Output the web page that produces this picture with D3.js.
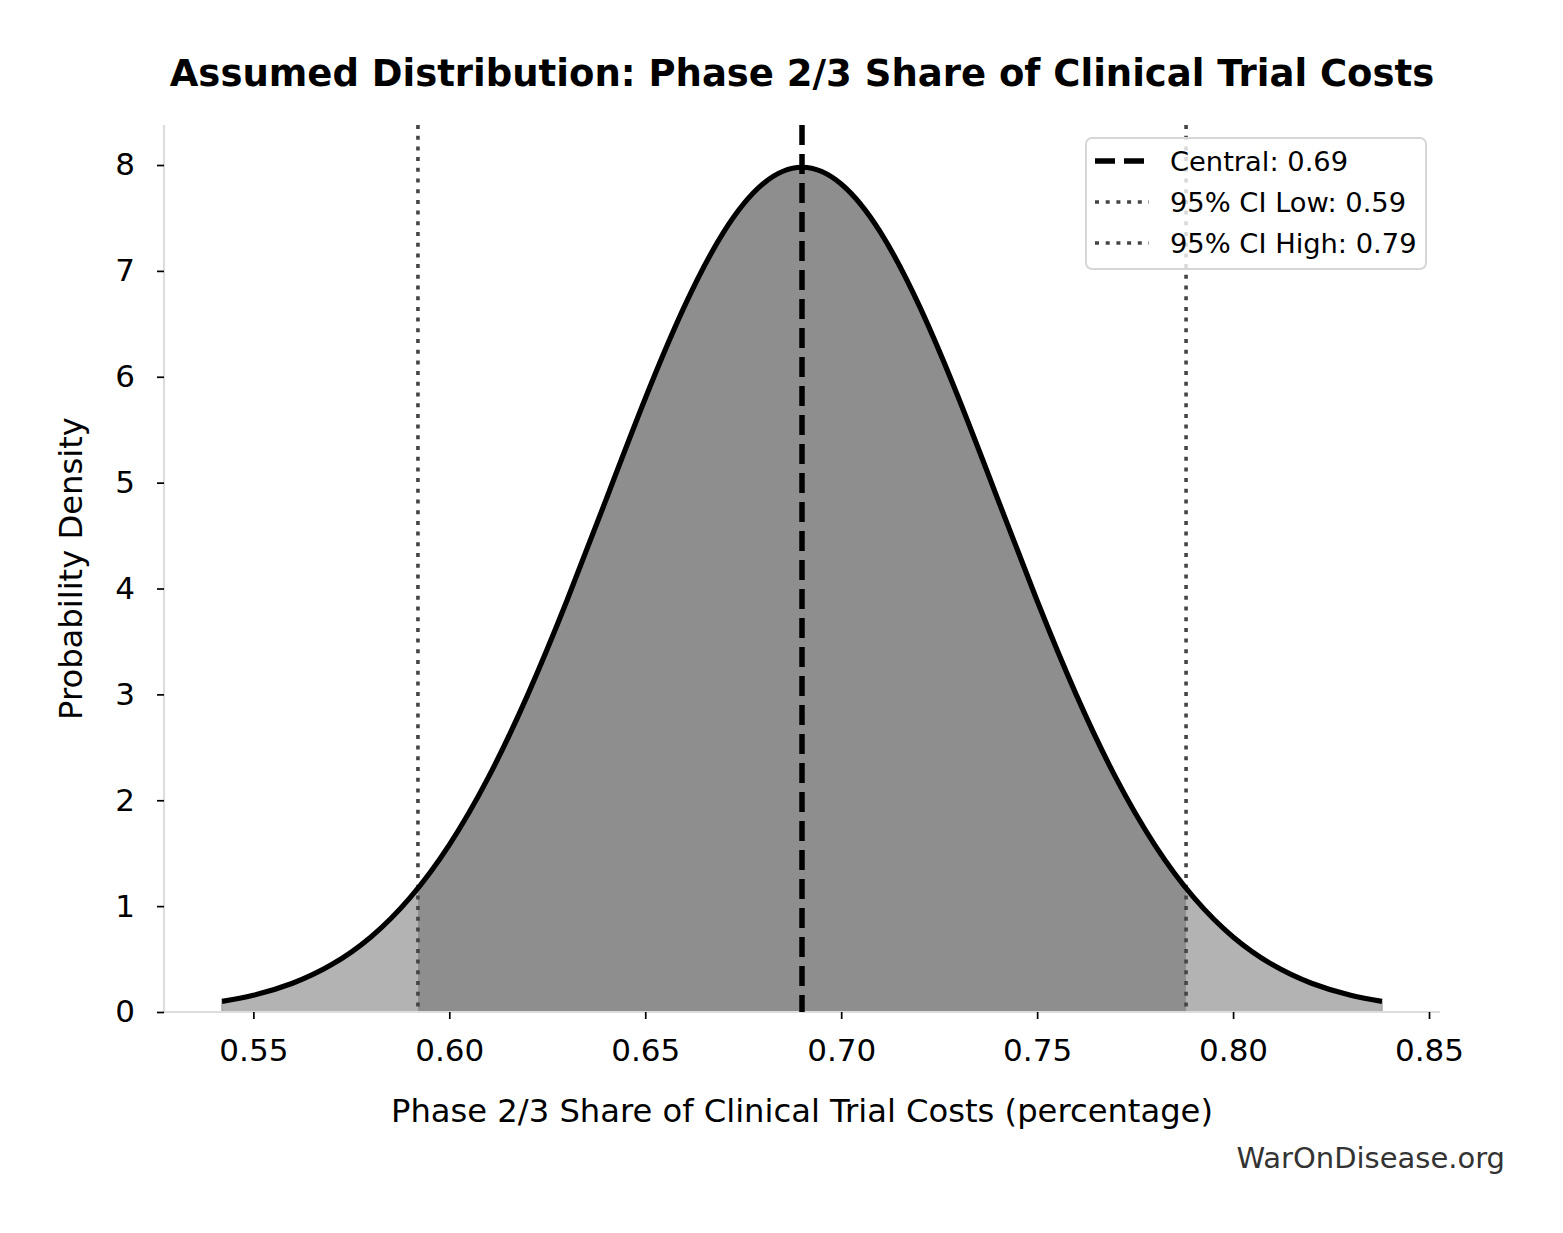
<!DOCTYPE html>
<html><head><meta charset="utf-8">
<script src="https://cdn.jsdelivr.net/npm/d3@7"></script>
<style>body{margin:0;background:#fff}svg{display:block}text{font-family:"DejaVu Sans",sans-serif}</style>
</head><body>
<svg id="c" width="1563" height="1233"></svg>
<script>
// density curve
const xs = [0.542,0.55,0.56,0.57,0.58,0.59,0.60,0.61,0.62,0.63,0.64,0.65,0.66,0.67,0.68,0.69,0.70,0.71,0.72,0.73,0.74,0.75,0.76,0.77,0.78,0.79,0.80,0.81,0.82,0.83,0.838];
const density = [0.100,0.158,0.272,0.448,0.709,1.080,1.579,2.218,2.995,3.884,4.839,5.794,6.664,7.366,7.821,7.979,7.821,7.366,6.664,5.794,4.839,3.884,2.995,2.218,1.579,1.080,0.709,0.448,0.272,0.158,0.100];
const central = 0.69, ciLow = 0.592, ciHigh = 0.788;
const legendLabels = ["Central: 0.69","95% CI Low: 0.59","95% CI High: 0.79"];
const xTicks = [0.55,0.60,0.65,0.70,0.75,0.80,0.85];
const yTicks = [0,1,2,3,4,5,6,7,8];
const title = "Assumed Distribution: Phase 2/3 Share of Clinical Trial Costs";
const xLabel = "Phase 2/3 Share of Clinical Trial Costs (percentage)";
const yLabel = "Probability Density";

const svg = d3.select("#c");
const L=164, R=1440, T=125, B=1012;
const pad = (xs[xs.length-1]-xs[0])*0.05;
const x = d3.scaleLinear().domain([xs[0]-pad, xs[xs.length-1]+pad]).range([L,R]);
const ymax = d3.max(density)*1.05;
const y = d3.scaleLinear().domain([0, ymax]).range([B,T]);
const pts = xs.map((v,i)=>({x:v,y:density[i]}));

svg.append("defs").append("clipPath").attr("id","ci")
  .append("rect").attr("x",x(ciLow)).attr("y",T).attr("width",x(ciHigh)-x(ciLow)).attr("height",B-T);

const area = d3.area().x(d=>x(d.x)).y0(y(0)).y1(d=>y(d.y)).curve(d3.curveNatural);
const line = d3.line().x(d=>x(d.x)).y(d=>y(d.y)).curve(d3.curveNatural);

svg.append("path").datum(pts).attr("d",area).attr("fill","#b3b3b3").attr("stroke","#a6a6a6").attr("stroke-width",1.5);
svg.append("path").datum(pts).attr("d",area).attr("fill","#8e8e8e").attr("clip-path","url(#ci)");

// axes
const xa = svg.append("g").attr("transform",`translate(0,${B})`)
  .call(d3.axisBottom(x).tickValues(xTicks).tickFormat(d3.format(".2f")).tickSizeOuter(0).tickSize(7).tickPadding(20));
const ya = svg.append("g").attr("transform",`translate(${L},0)`)
  .call(d3.axisLeft(y).tickValues(yTicks).tickFormat(d3.format("d")).tickSizeOuter(0).tickSize(7).tickPadding(22));
[xa,ya].forEach(a=>{
  a.select(".domain").attr("stroke","#dddddd").attr("stroke-width",2.2);
  a.selectAll(".tick line").attr("stroke","#000").attr("stroke-width",1.7);
  a.selectAll(".tick text").attr("fill","#000").style("font-size","31px").style("font-family","DejaVu Sans");
});
xa.select(".domain").attr("d",`M${L},0H${R}`);
ya.select(".domain").attr("d",`M0,${B}V${T}`);

// reference lines
const dotted = {c:"#444",w:3.6,d:"4 6.7"};
const dashed = {c:"#000",w:5.5,d:"20 9"};
[ciLow,ciHigh].forEach(v=>{
  svg.append("line").attr("x1",x(v)).attr("x2",x(v)).attr("y1",T).attr("y2",B)
    .attr("stroke",dotted.c).attr("stroke-width",dotted.w).attr("stroke-dasharray",dotted.d);
});
svg.append("path").datum(pts).attr("d",line).attr("fill","none").attr("stroke","#000").attr("stroke-width",5.2);
svg.append("line").attr("x1",x(central)).attr("x2",x(central)).attr("y1",T).attr("y2",B)
  .attr("stroke",dashed.c).attr("stroke-width",dashed.w).attr("stroke-dasharray",dashed.d);

// legend
const lg = svg.append("g");
lg.append("rect").attr("x",1086).attr("y",138).attr("width",340).attr("height",131).attr("rx",6)
  .attr("fill","#fff").attr("fill-opacity",0.8).attr("stroke","#d6d6d6").attr("stroke-width",2);
const styles = [dashed, dotted, dotted];
legendLabels.forEach((t,i)=>{
  const yy = 161 + i*41;
  lg.append("line").attr("x1",1095).attr("x2",1149).attr("y1",yy).attr("y2",yy)
    .attr("stroke",styles[i].c).attr("stroke-width",styles[i].w).attr("stroke-dasharray",styles[i].d);
  lg.append("text").attr("x",1170).attr("y",yy).attr("dy","0.35em").style("font-size","27.3px").attr("fill","#000").text(t);
});

// titles
svg.append("text").attr("x",(L+R)/2).attr("y",86).attr("text-anchor","middle")
  .style("font-size","37px").style("font-weight","bold").text(title);
svg.append("text").attr("x",(L+R)/2).attr("y",1122).attr("text-anchor","middle")
  .style("font-size","32.2px").text(xLabel);
svg.append("text").attr("transform",`translate(82,${(T+B)/2}) rotate(-90)`).attr("text-anchor","middle")
  .style("font-size","32.2px").text(yLabel);
svg.append("text").attr("x",1505).attr("y",1168).attr("text-anchor","end")
  .style("font-size","29px").attr("fill","#333").text("WarOnDisease.org");
</script>
</body></html>
